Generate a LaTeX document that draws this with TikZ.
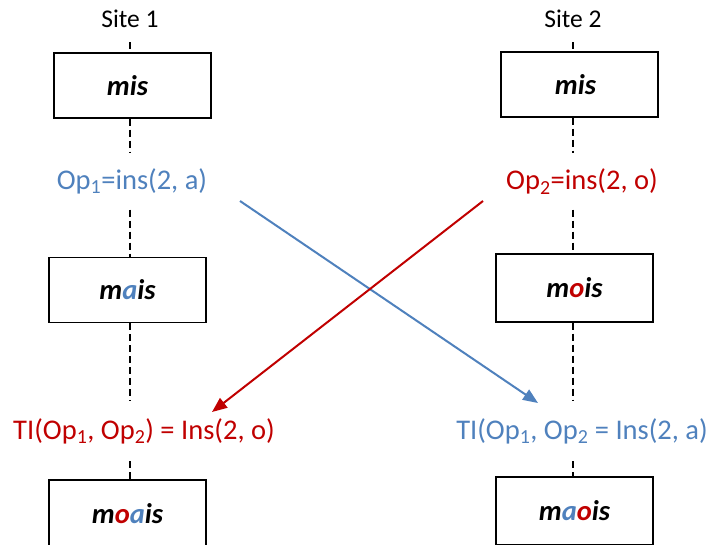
\documentclass[tikz,border=0pt]{standalone}
\usepackage{fontspec}
\setmainfont{Carlito}
\usetikzlibrary{arrows.meta,calc}
\definecolor{opblue}{RGB}{79,129,189}
\definecolor{opred}{RGB}{192,0,0}
\tikzset{
  sitelabel/.style={inner sep=0pt, font=\fontsize{25.5}{30}\selectfont},
  state/.style={draw, line width=1.2pt, minimum width=157pt, minimum height=65pt,
    inner sep=0pt, font=\fontsize{28.5}{34}\selectfont\bfseries\itshape},
  oplabel/.style={inner sep=0pt, minimum height=56pt, font=\fontsize{28.5}{34}\selectfont},
  timeline/.style={line width=1.3pt, dash pattern=on 7pt off 4pt},
  flow/.style={line width=2pt, -{Triangle[length=15pt,width=12pt]}}
}
\begin{document}
\begin{tikzpicture}[x=1pt,y=-1pt]
\useasboundingbox (0,0) rectangle (712,544);

% site headers
\node[sitelabel] (site1) at (130,19) {Site 1};
\node[sitelabel] (site2) at (573,19) {Site 2};

% site 1 timeline
\node[state] (l0) at (132.5,85.5) {\hspace*{-10pt}mis};
\node[oplabel, text=opblue] (op1) at (132,181.5) {Op\textsubscript{1}=ins(2, a)};
\node[state] (l1) at (127.5,290) {m\textcolor{opblue}{a}is};
\node[oplabel, minimum height=60pt, text=opred] (ti1) at (144,431)
  {TI(Op\textsubscript{1}, Op\textsubscript{2}) = Ins(2, o)};
\node[state, minimum height=68pt] (l2) at (127.5,514)
  {m\textcolor{opred}{o}\textcolor{opblue}{a}is};

% site 2 timeline
\node[state] (r0) at (579.5,84.5) {\hspace*{-8pt}mis};
\node[oplabel, text=opred] (op2) at (582,181.5) {Op\textsubscript{2}=ins(2, o)};
\node[state, minimum height=68pt] (r1) at (574.5,288) {m\textcolor{opred}{o}is};
\node[oplabel, minimum height=60pt, text=opblue] (ti2) at (582,431)
  {TI(Op\textsubscript{1}, Op\textsubscript{2} = Ins(2, a)};
\node[state, minimum height=68pt] (r2) at (574.5,511)
  {m\textcolor{opblue}{a}\textcolor{opred}{o}is};

% dashed time lines
\draw[timeline] ($(site1 |- l0.north)+(0,-10)$) -- (site1 |- l0.north);
\draw[timeline] (site1 |- l0.south) -- (site1 |- op1.north);
\draw[timeline] (site1 |- op1.south) -- (site1 |- l1.north);
\draw[timeline] (site1 |- l1.south) -- (site1 |- ti1.north);
\draw[timeline] (site1 |- ti1.south) -- (site1 |- l2.north);

\draw[timeline] ($(site2 |- r0.north)+(0,-9)$) -- (site2 |- r0.north);
\draw[timeline] (site2 |- r0.south) -- (site2 |- op2.north);
\draw[timeline] (site2 |- op2.south) -- (site2 |- r1.north);
\draw[timeline] (site2 |- r1.south) -- (site2 |- ti2.north);
\draw[timeline] (site2 |- ti2.south) -- (site2 |- r2.north);

% operations sent to the other site
\draw[flow, opblue] ($(op1.center)+(108,19.5)$) -- ($(ti2.center)+(-44,-28)$);
\draw[flow, opred] ($(op2.center)+(-99,19.5)$) -- ($(ti1.center)+(68,-19)$);
\end{tikzpicture}
\end{document}
